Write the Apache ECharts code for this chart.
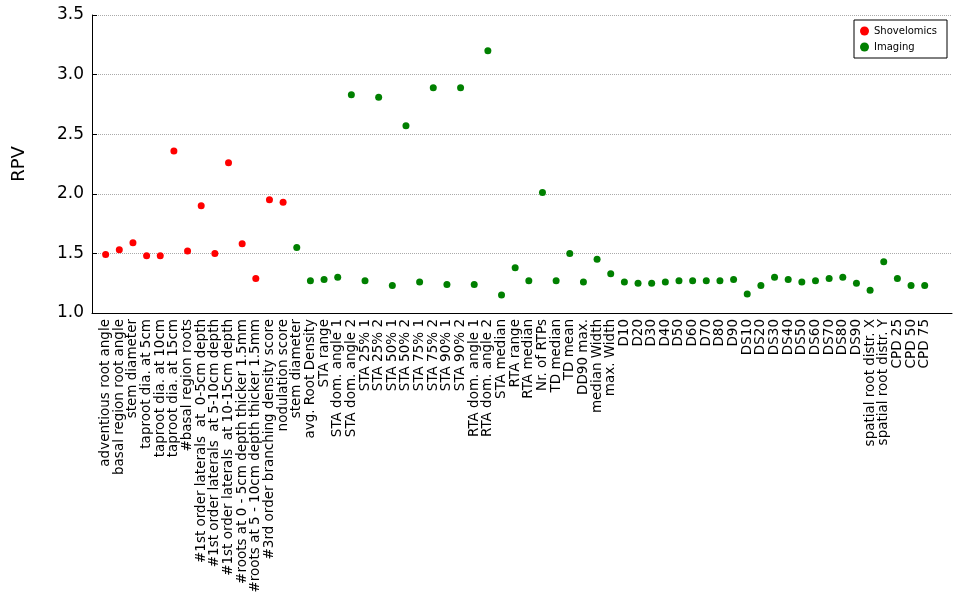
<!DOCTYPE html>
<html>
<head>
<meta charset="utf-8">
<script src="https://cdn.jsdelivr.net/npm/echarts@6/dist/echarts.min.js"></script>
<style>html,body{margin:0;background:#fff}#chart{width:955px;height:599px}</style>
</head>
<body>
<div id="chart"></div>
<script>
// Shovelomics traits
var shovelNames = ["adventious root angle", "basal region root angle", "stem diameter",
    "taproot dia. at 5cm", "taproot dia. at 10cm", "taproot dia. at 15cm", "#basal region roots",
    "#1st order laterals  at  0-5cm depth", "#1st order laterals  at 5-10cm depth",
    "#1st order laterals  at 10-15cm depth", "#roots at 0 - 5cm depth thicker 1.5mm",
    "#roots at 5 - 10cm depth thicker 1.5mm", "#3rd order branching density score", "nodulation score"];
var shovelValues = [1.49, 1.53, 1.59, 1.48, 1.48, 2.36, 1.52, 1.90, 1.50, 2.26, 1.58, 1.29, 1.95, 1.93];

// Imaging traits
var imagingNames = ["stem diameter", "avg. Root Density", "STA range", "STA dom. angle 1", "STA dom. angle 2",
    "STA 25% 1", "STA 25% 2", "STA 50% 1", "STA 50% 2", "STA 75% 1", "STA 75% 2", "STA 90% 1", "STA 90% 2",
    "RTA dom. angle 1", "RTA dom. angle 2", "STA median", "RTA range", "RTA median", "Nr. of RTPs",
    "TD median", "TD mean", "DD90 max.", "median Width", "max. Width",
    "D10", "D20", "D30", "D40", "D50", "D60", "D70", "D80", "D90",
    "DS10", "DS20", "DS30", "DS40", "DS50", "DS60", "DS70", "DS80", "DS90",
    "spatial root distr. X", "spatial root distr. Y", "CPD 25", "CPD 50", "CPD 75"];
var imagingValues = [1.55, 1.27, 1.28, 1.30, 2.83, 1.27, 2.81, 1.23, 2.57, 1.26, 2.89, 1.24, 2.89,
    1.24, 3.20, 1.15, 1.38, 1.27, 2.01, 1.27, 1.50, 1.26, 1.45, 1.33,
    1.26, 1.25, 1.25, 1.26, 1.27, 1.27, 1.27, 1.27, 1.28,
    1.16, 1.23, 1.30, 1.28, 1.26, 1.27, 1.29, 1.30, 1.25,
    1.19, 1.43, 1.29, 1.23, 1.23];

// 两端留空类目
var categories = [""].concat(shovelNames, imagingNames, ["", ""]);
var shovelData = shovelValues.map(function (v, i) { return [i + 1, v]; });
var imagingData = imagingValues.map(function (v, i) { return [i + 1 + shovelNames.length, v]; });

var chart = echarts.init(document.getElementById("chart"));
chart.setOption({
    animation: false,
    grid: { left: 92, right: 3, top: 15, bottom: 286, outerBoundsMode: "none" },
    legend: {
        right: 8, top: 20, orient: "vertical", itemWidth: 9, itemHeight: 9, itemGap: 6,
        padding: [6, 10, 6, 6], borderColor: "#000", borderWidth: 1,
        textStyle: { fontSize: 10, color: "#000", fontFamily: "DejaVu Sans" },
        data: [{ name: "Shovelomics", icon: "circle" }, { name: "Imaging", icon: "circle" }]
    },
    xAxis: {
        type: "category", data: categories, boundaryGap: false,
        axisLine: { lineStyle: { color: "#000" } },
        axisTick: { show: false },
        axisLabel: { interval: 0, rotate: 90, color: "#000", fontSize: 13.5, fontFamily: "DejaVu Sans", margin: 6 },
        splitLine: { show: false }
    },
    yAxis: {
        type: "value", min: 1.0, max: 3.5, interval: 0.5,
        name: "RPV", nameLocation: "middle", nameGap: 64,
        nameTextStyle: { fontSize: 18, color: "#000", fontFamily: "DejaVu Sans" },
        axisLine: { show: true, lineStyle: { color: "#000" } },
        axisTick: { show: true, inside: true, length: 5, lineStyle: { color: "#000" } },
        axisLabel: { color: "#000", fontSize: 17, fontFamily: "DejaVu Sans",
            formatter: function (v) { return v.toFixed(1); } },
        splitLine: { lineStyle: { color: "#aaa", type: "dotted" } }
    },
    series: [
        { name: "Shovelomics", type: "scatter", data: shovelData, symbolSize: 7,
          itemStyle: { color: "#ff0000", opacity: 1 } },
        { name: "Imaging", type: "scatter", data: imagingData, symbolSize: 7,
          itemStyle: { color: "#008000", opacity: 1 } }
    ]
});
</script>
</body>
</html>
